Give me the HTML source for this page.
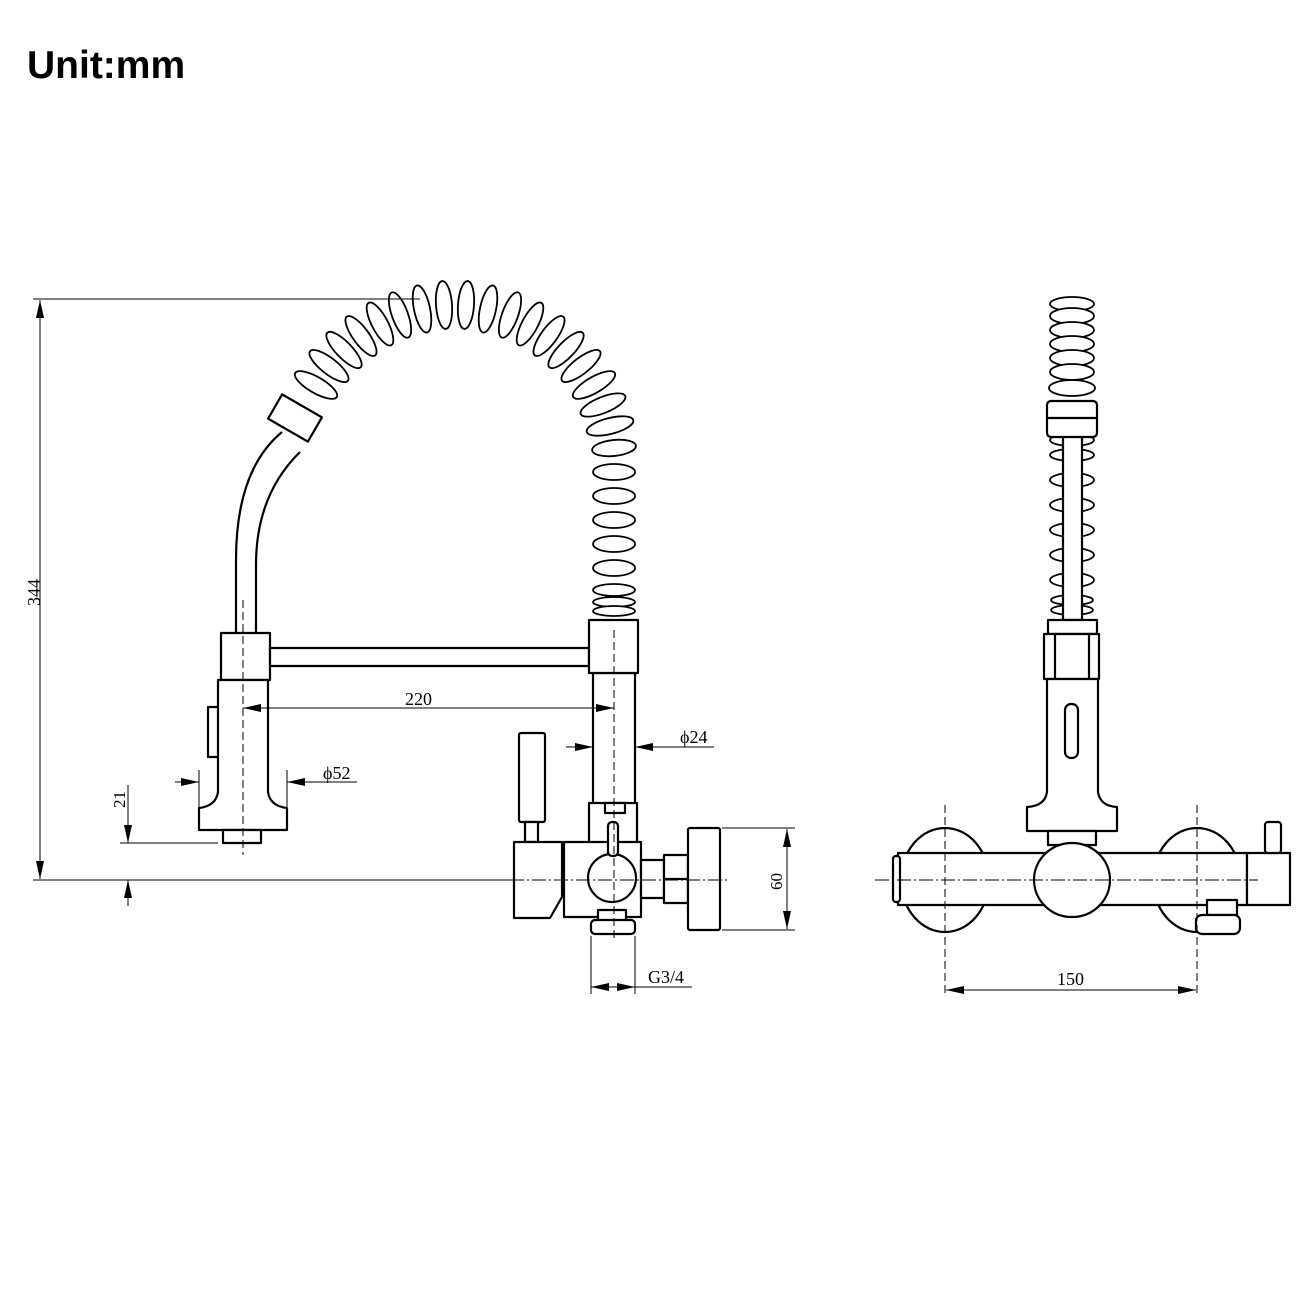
<!DOCTYPE html>
<html><head><meta charset="utf-8"><style>
html,body{margin:0;padding:0;background:#fff;}
svg{display:block}
text{font-family:"Liberation Serif",serif;fill:#000}
</style></head><body>
<svg width="1300" height="1300" viewBox="0 0 1300 1300" xmlns="http://www.w3.org/2000/svg">
<defs>
<marker id="ar2" viewBox="0 0 18 8" refX="18" refY="4" markerWidth="18" markerHeight="8" markerUnits="userSpaceOnUse" orient="auto"><path d="M0,0 L18,4 L0,8 Z" fill="#000"/></marker>
</defs>
<text x="27" y="78" style="font-family:'Liberation Sans',sans-serif;font-weight:bold;font-size:39px">Unit:mm</text>

<!-- ===== LEFT VIEW faucet ===== -->
<g stroke="#000" stroke-width="2.2" fill="#fff" stroke-linejoin="round">
<path d="M236,634 L236,560 Q236,470 282,432" fill="none"/>
<path d="M256,634 L256,565 Q256,495 300,452" fill="none"/>
<rect x="272" y="404" width="46" height="28" transform="rotate(30 295 418)"/>
<g stroke-width="1.8">
<ellipse cx="316" cy="385" rx="24" ry="8" transform="rotate(-150 316 385)"/>
<ellipse cx="329" cy="366" rx="24" ry="8" transform="rotate(-142 329 366)"/>
<ellipse cx="344" cy="350" rx="24" ry="8" transform="rotate(-134 344 350)"/>
<ellipse cx="361" cy="336" rx="24" ry="8" transform="rotate(-126 361 336)"/>
<ellipse cx="380" cy="324" rx="24" ry="8" transform="rotate(-118 380 324)"/>
<ellipse cx="400" cy="315" rx="24" ry="8" transform="rotate(-110 400 315)"/>
<ellipse cx="422" cy="309" rx="24" ry="8" transform="rotate(-102 422 309)"/>
<ellipse cx="444" cy="305" rx="24" ry="8" transform="rotate(-94 444 305)"/>
<ellipse cx="466" cy="305" rx="24" ry="8" transform="rotate(-86 466 305)"/>
<ellipse cx="488" cy="309" rx="24" ry="8" transform="rotate(-78 488 309)"/>
<ellipse cx="510" cy="315" rx="24" ry="8" transform="rotate(-70 510 315)"/>
<ellipse cx="530" cy="324" rx="24" ry="8" transform="rotate(-62 530 324)"/>
<ellipse cx="549" cy="336" rx="24" ry="8" transform="rotate(-54 549 336)"/>
<ellipse cx="566" cy="350" rx="24" ry="8" transform="rotate(-46 566 350)"/>
<ellipse cx="581" cy="366" rx="24" ry="8" transform="rotate(-38 581 366)"/>
<ellipse cx="594" cy="385" rx="24" ry="8" transform="rotate(-30 594 385)"/>
<ellipse cx="603" cy="405" rx="24" ry="8" transform="rotate(-22 603 405)"/>
<ellipse cx="610" cy="426" rx="24" ry="8" transform="rotate(-14 610 426)"/>
<ellipse cx="614" cy="448" rx="22" ry="8" transform="rotate(-6 614 448)"/>
<ellipse cx="614" cy="472" rx="21" ry="8"/>
<ellipse cx="614" cy="496" rx="21" ry="8"/>
<ellipse cx="614" cy="520" rx="21" ry="8"/>
<ellipse cx="614" cy="544" rx="21" ry="8"/>
<ellipse cx="614" cy="568" rx="21" ry="8"/>
<ellipse cx="614" cy="590" rx="21" ry="6"/>
<ellipse cx="614" cy="602" rx="21" ry="5"/>
<ellipse cx="614" cy="611" rx="21" ry="5"/>
</g>
<rect x="221" y="633" width="49" height="47"/>
<rect x="208" y="707" width="11" height="50"/>
<path d="M218,680 L268,680 L268,792 Q270,806 287,808 L287,830 L199,830 L199,808 Q216,806 218,792 Z"/>
<rect x="223" y="830" width="38" height="13"/>
<rect x="270" y="648" width="319" height="18"/>
<rect x="593" y="673" width="42" height="132"/>
<rect x="589" y="620" width="49" height="53"/>
<rect x="589" y="803" width="48" height="40"/>
<rect x="605" y="803" width="20" height="10"/>
<rect x="519" y="733" width="26" height="89" rx="2"/>
<rect x="525" y="822" width="13" height="20"/>
<path d="M514,842 L562,842 L562,897 L550,918 L514,918 Z"/>
<rect x="564" y="842" width="77" height="75"/>
<rect x="641" y="860" width="23" height="38"/>
<rect x="664" y="855" width="24" height="48"/>
<line x1="664" y1="879" x2="688" y2="879"/>
<rect x="688" y="828" width="32" height="102" rx="2"/>
<rect x="598" y="910" width="28" height="12"/>
<rect x="591" y="920" width="44" height="14" rx="4"/>
<circle cx="612" cy="878" r="24"/>
<rect x="608" y="822" width="10" height="34" rx="4"/>
</g>

<!-- ===== LEFT VIEW dims (on top) ===== -->
<g stroke="#000" stroke-width="1" fill="none">
<line x1="33" y1="299" x2="420" y2="299"/>
<line x1="33" y1="880" x2="510" y2="880"/>
<line x1="40" y1="590" x2="40" y2="300" marker-end="url(#ar2)"/>
<line x1="40" y1="590" x2="40" y2="879" marker-end="url(#ar2)"/>
<line x1="120" y1="843" x2="218" y2="843"/>
<line x1="128" y1="785" x2="128" y2="843" marker-end="url(#ar2)"/>
<line x1="128" y1="906" x2="128" y2="880" marker-end="url(#ar2)"/>
<line x1="430" y1="708" x2="243" y2="708" marker-end="url(#ar2)"/>
<line x1="430" y1="708" x2="614" y2="708" marker-end="url(#ar2)"/>
<line x1="566" y1="747" x2="593" y2="747" marker-end="url(#ar2)"/>
<line x1="714" y1="747" x2="635" y2="747" marker-end="url(#ar2)"/>
<line x1="175" y1="782" x2="199" y2="782" marker-end="url(#ar2)"/>
<line x1="357" y1="782" x2="287" y2="782" marker-end="url(#ar2)"/>
<line x1="199" y1="770" x2="199" y2="808"/>
<line x1="287" y1="770" x2="287" y2="808"/>
<line x1="722" y1="828" x2="795" y2="828"/>
<line x1="722" y1="930" x2="795" y2="930"/>
<line x1="787" y1="879" x2="787" y2="829" marker-end="url(#ar2)"/>
<line x1="787" y1="879" x2="787" y2="929" marker-end="url(#ar2)"/>
<line x1="591" y1="936" x2="591" y2="994"/>
<line x1="635" y1="936" x2="635" y2="994"/>
<line x1="613" y1="987" x2="591" y2="987" marker-end="url(#ar2)"/>
<line x1="613" y1="987" x2="635" y2="987" marker-end="url(#ar2)"/>
<line x1="635" y1="987" x2="692" y2="987"/>
<line x1="243" y1="600" x2="243" y2="855" stroke-dasharray="8,4"/>
<line x1="614" y1="630" x2="614" y2="940" stroke-dasharray="8,4"/>
<line x1="510" y1="880" x2="730" y2="880" stroke-dasharray="14,3,2,3"/>
</g>
<text x="0" y="0" font-size="18" transform="translate(40,606) rotate(-90)">344</text>
<text x="0" y="0" font-size="17" transform="translate(125,808) rotate(-90)">21</text>
<text x="0" y="0" font-size="17" transform="translate(782,890) rotate(-90)">60</text>
<text x="405" y="705" font-size="18">220</text>
<text x="680" y="743" font-size="18">ϕ24</text>
<text x="323" y="779" font-size="18">ϕ52</text>
<text x="648" y="983" font-size="18">G3/4</text>

<!-- ===== RIGHT VIEW ===== -->
<g stroke="#000" stroke-width="2.2" fill="#fff" stroke-linejoin="round">
<g stroke-width="1.8">
<ellipse cx="1072" cy="440" rx="22" ry="6"/>
<ellipse cx="1072" cy="455" rx="22" ry="6"/>
<ellipse cx="1072" cy="480" rx="22" ry="7"/>
<ellipse cx="1072" cy="505" rx="22" ry="7"/>
<ellipse cx="1072" cy="530" rx="22" ry="7"/>
<ellipse cx="1072" cy="555" rx="22" ry="7"/>
<ellipse cx="1072" cy="580" rx="22" ry="7"/>
<ellipse cx="1072" cy="600" rx="21" ry="5"/>
<ellipse cx="1072" cy="610" rx="21" ry="5"/>
</g>
<rect x="1063" y="430" width="19" height="190"/>
<g stroke-width="1.8">
<ellipse cx="1072" cy="304" rx="22" ry="7"/>
<ellipse cx="1072" cy="316" rx="22" ry="8"/>
<ellipse cx="1072" cy="330" rx="22" ry="8"/>
<ellipse cx="1072" cy="344" rx="22" ry="8"/>
<ellipse cx="1072" cy="358" rx="22" ry="8"/>
<ellipse cx="1072" cy="372" rx="22" ry="8"/>
<ellipse cx="1072" cy="388" rx="23" ry="8"/>
</g>
<rect x="1047" y="401" width="50" height="36" rx="4"/>
<line x1="1047" y1="418" x2="1097" y2="418"/>
<rect x="1048" y="620" width="49" height="14"/>
<rect x="1044" y="634" width="55" height="45"/>
<line x1="1055" y1="634" x2="1055" y2="679"/>
<line x1="1089" y1="634" x2="1089" y2="679"/>
<path d="M1047,679 L1098,679 L1098,792 Q1100,806 1117,807 L1117,831 L1027,831 L1027,807 Q1045,806 1047,792 Z"/>
<rect x="1065" y="704" width="13" height="54" rx="6"/>
<rect x="1048" y="831" width="48" height="14"/>
<ellipse cx="945" cy="880" rx="44" ry="52"/>
<ellipse cx="1197" cy="880" rx="44" ry="52"/>
<rect x="898" y="853" width="349" height="52"/>
<rect x="893" y="856" width="7" height="46" rx="3"/>
<rect x="1247" y="853" width="43" height="52"/>
<rect x="1265" y="822" width="16" height="31" rx="3"/>
<ellipse cx="1072" cy="880" rx="38" ry="37"/>
<rect x="1207" y="900" width="30" height="15"/>
<rect x="1196" y="915" width="44" height="19" rx="6"/>
</g>
<g stroke="#000" stroke-width="1" fill="none">
<line x1="875" y1="880" x2="1258" y2="880" stroke-dasharray="14,3,2,3"/>
<line x1="945" y1="805" x2="945" y2="996" stroke-dasharray="8,4"/>
<line x1="1197" y1="805" x2="1197" y2="996" stroke-dasharray="8,4"/>
<line x1="1072" y1="990" x2="946" y2="990" marker-end="url(#ar2)"/>
<line x1="1072" y1="990" x2="1196" y2="990" marker-end="url(#ar2)"/>
</g>
<text x="1057" y="985" font-size="18">150</text>
</svg>
</body></html>
